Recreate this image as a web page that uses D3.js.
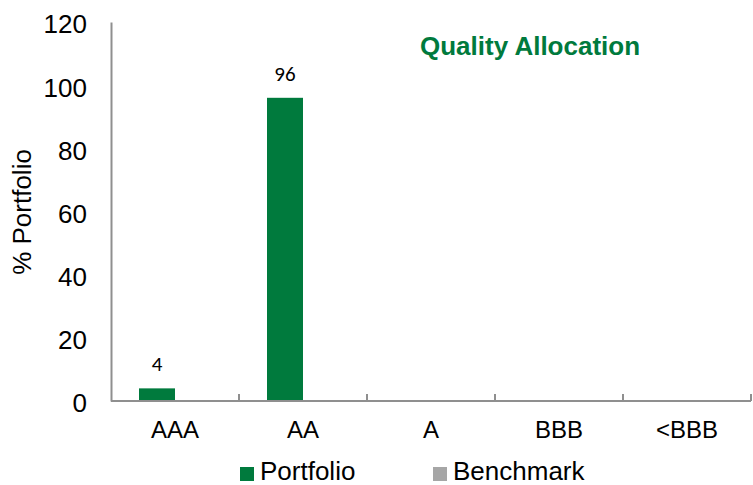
<!DOCTYPE html>
<html>
<head>
<meta charset="utf-8">
<script src="https://cdn.jsdelivr.net/npm/d3@7"></script>
<style>
  html, body { margin: 0; padding: 0; background: #fff; }
  svg { display: block; }
</style>
</head>
<body>
<svg id="chart" width="753" height="485"></svg>
<script>
const categories = ["AAA", "AA", "A", "BBB", "<BBB"];
const seriesNames = ["Portfolio", "Benchmark"];
const portfolio = [4, 96, null, null, null];
const benchmark = [null, null, null, null, null];
const yTicks = [0, 20, 40, 60, 80, 100, 120];
const chartTitle = "Quality Allocation";
const yTitle = "% Portfolio";

(function () {
const colors = { Portfolio: "#007A3D", Benchmark: "#A6A6A6" };
const axisColor = "#8F8F8F";
const font = "'Liberation Sans', Arial, sans-serif";

const svg = d3.select("#chart");
const mLeft = 111, mRight = 751, mTop = 22, mBottom = 401;

const x = d3.scaleBand().domain(categories).range([mLeft, mRight]);
const bw = x.bandwidth();
const gap = bw * 28 / 128;
const inner = d3.scaleBand().domain(seriesNames).range([gap, bw - gap]);
const barW = inner.bandwidth();
const y = d3.scaleLinear().domain([0, 120]).range([mBottom, mTop]);

const data = [];
categories.forEach((c, i) => {
  [["Portfolio", portfolio[i]], ["Benchmark", benchmark[i]]].forEach(([s, v]) => {
    if (v != null) data.push({ cat: c, series: s, value: v });
  });
});

// bars
svg.append("g").selectAll("rect").data(data).join("rect")
  .attr("x", d => x(d.cat) + inner(d.series))
  .attr("y", d => y(d.value))
  .attr("width", barW)
  .attr("height", d => y(0) - y(d.value))
  .attr("fill", d => colors[d.series]);

// data labels
svg.append("g").selectAll("text").data(data).join("text")
  .attr("x", d => x(d.cat) + inner(d.series) + barW / 2)
  .attr("y", d => y(d.value) - 17)
  .attr("text-anchor", "middle")
  .attr("font-family", "Carlito, 'Open Sans', sans-serif")
  .attr("font-size", 21)
  .attr("fill", "#000")
  .text(d => d.value);

// y axis
const yAxis = d3.axisLeft(y).tickValues(yTicks).tickSize(0).tickPadding(24);
const gy = svg.append("g").attr("transform", `translate(${mLeft},0)`).call(yAxis);
gy.select(".domain").attr("stroke", axisColor).attr("stroke-width", 2);
gy.selectAll("text")
  .attr("font-family", font).attr("font-size", 26).attr("fill", "#000")
  .attr("dy", "0.42em");

// x axis line with ticks at band boundaries
const gx = svg.append("g");
gx.append("line")
  .attr("x1", mLeft).attr("x2", mRight).attr("y1", mBottom).attr("y2", mBottom)
  .attr("stroke", axisColor).attr("stroke-width", 2);
const boundaries = categories.map(c => x(c) + bw);
gx.selectAll(".tk").data(boundaries).join("line")
  .attr("class", "tk")
  .attr("x1", d => d).attr("x2", d => d)
  .attr("y1", mBottom).attr("y2", mBottom - 7)
  .attr("stroke", axisColor).attr("stroke-width", 2);
gx.selectAll(".cl").data(categories).join("text")
  .attr("class", "cl")
  .attr("x", d => x(d) + bw / 2)
  .attr("y", 438)
  .attr("text-anchor", "middle")
  .attr("font-family", font).attr("font-size", 24).attr("fill", "#000")
  .text(d => d);

// y title
svg.append("text")
  .attr("transform", `translate(31,212) rotate(-90)`)
  .attr("text-anchor", "middle")
  .attr("font-family", font).attr("font-size", 26).attr("fill", "#000")
  .text(yTitle);

// chart title
svg.append("text")
  .attr("x", 420).attr("y", 55)
  .attr("font-family", font).attr("font-size", 26).attr("font-weight", "bold")
  .attr("fill", colors.Portfolio)
  .text(chartTitle);

// legend
const legendPos = [240, 433];
const lg = svg.append("g").selectAll("g").data(seriesNames).join("g")
  .attr("transform", (d, i) => `translate(${legendPos[i]},0)`);
lg.append("rect").attr("x", 0).attr("y", 467).attr("width", 14).attr("height", 14)
  .attr("fill", d => colors[d]);
lg.append("text").attr("x", 20).attr("y", 480)
  .attr("font-family", font).attr("font-size", 26).attr("fill", "#000")
  .text(d => d);
})();
</script>
</body>
</html>
